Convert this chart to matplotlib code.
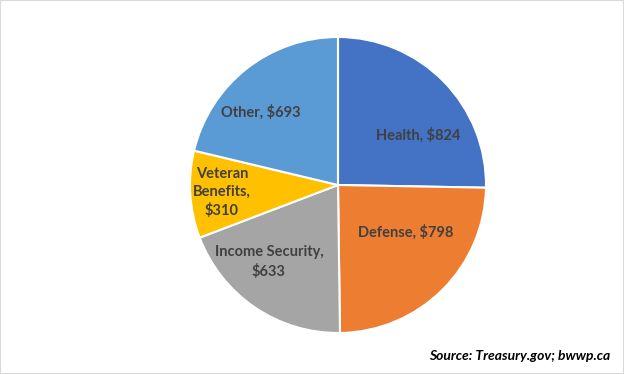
import matplotlib.pyplot as plt
from matplotlib.patches import Rectangle

# Spending by category (billions)
categories = ["Health", "Defense", "Income Security", "Veteran\nBenefits", "Other"]
values = [824, 798, 633, 310, 693]
colors = ["#4472C4", "#ED7D31", "#A5A5A5", "#FFC000", "#5B9BD5"]

# label centres in pie units (radius ~1)
label_xy = [(0.533, 0.333), (0.453, -0.313), (-0.46, -0.513),
            (-0.773, -0.053), (-0.513, 0.487)]

fig = plt.figure(figsize=(6.24, 3.74), dpi=100)
ax = fig.add_axes([(338 - 150) / 624, (374 - 185 - 150) / 374, 300 / 624, 300 / 374])

wedges, _ = ax.pie(values, colors=colors, startangle=90, counterclock=False,
                   radius=148 / 150,
                   wedgeprops=dict(edgecolor="white", linewidth=1.5))
ax.set_xlim(-1, 1)
ax.set_ylim(-1, 1)
ax.set_aspect("equal")

for cat, val, (x, y) in zip(categories, values, label_xy):
    if cat.startswith("Veteran") or cat == "Income Security":
        txt = cat + ",\n$%d" % val
    else:
        txt = "%s, $%d" % (cat, val)
    ax.text(x, y, txt, ha="center", va="center", fontsize=10.5,
            fontweight="bold", color="#404040", family="Lato", linespacing=1.35)

fig.text(610 / 624, 1 - 356 / 374, "Source: Treasury.gov; bwwp.ca", ha="right",
         va="center", fontsize=10, fontweight="bold", style="italic",
         family="Lato", color="black")

fig.patches.append(Rectangle((0, 0), 1, 1, transform=fig.transFigure,
                             fill=False, edgecolor="#D9D9D9", linewidth=1.5))

fig.savefig("out.png", dpi=100)
